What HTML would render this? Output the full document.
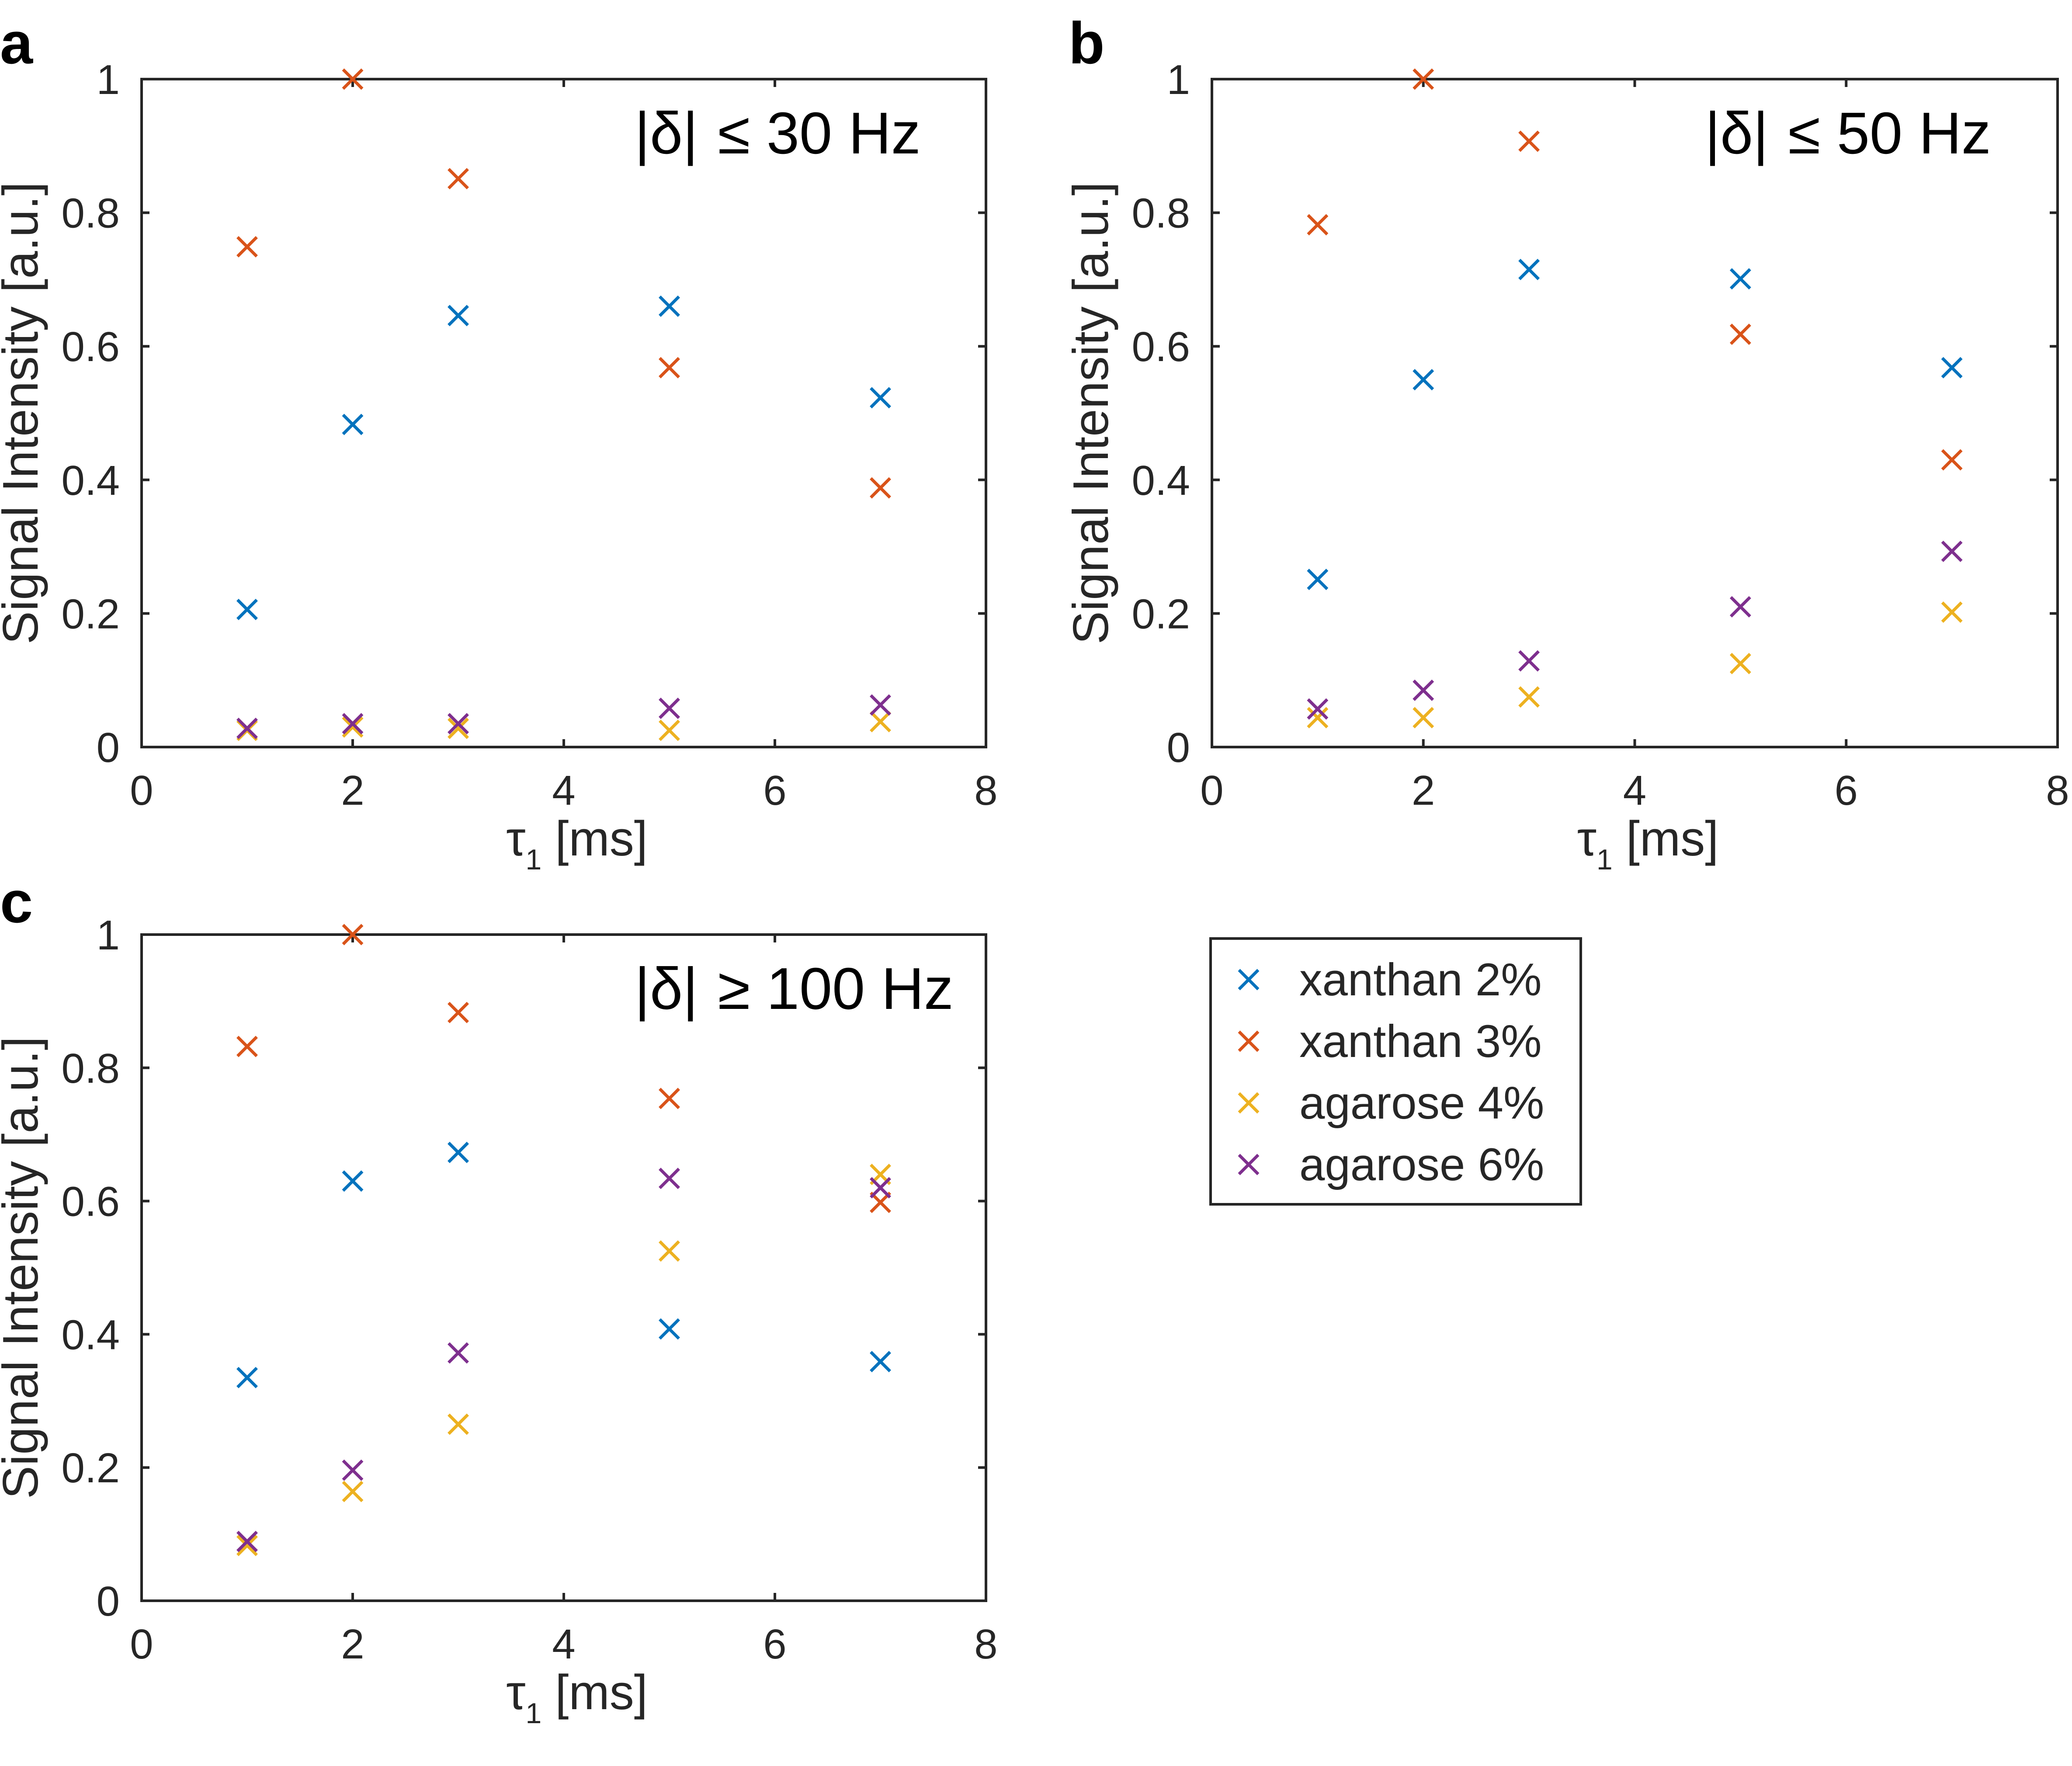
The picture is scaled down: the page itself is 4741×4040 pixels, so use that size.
<!DOCTYPE html>
<html><head><meta charset="utf-8"><style>
html,body{margin:0;padding:0;background:#fff;}
svg{display:block;font-family:"Liberation Sans",sans-serif;}
</style></head><body>
<svg id="fig" width="4741" height="4040" viewBox="0 0 4741 4040" xmlns="http://www.w3.org/2000/svg"></svg>
<script>
const xTicks=[0,2,4,6,8];
const yTicks=[0,0.2,0.4,0.6,0.8,1];
const yTickLabels=["0","0.2","0.4","0.6","0.8","1"];
const tau=[1,2,3,5,7];
const seriesNames=["xanthan 2%","xanthan 3%","agarose 4%","agarose 6%"];
const colors=["#0072BD","#D95319","#EDB120","#7E2F8E"];
const a_x2=[0.206,0.483,0.646,0.660,0.523];
const a_x3=[0.749,1.0,0.851,0.568,0.388];
const a_ag4=[0.025,0.030,0.028,0.025,0.038];
const a_ag6=[0.028,0.035,0.035,0.058,0.063];
const b_x2=[0.251,0.550,0.715,0.701,0.568];
const b_x3=[0.782,1.0,0.907,0.618,0.430];
const b_ag4=[0.044,0.044,0.075,0.125,0.202];
const b_ag6=[0.057,0.085,0.129,0.210,0.293];
const c_x2=[0.335,0.630,0.673,0.408,0.359];
const c_x3=[0.832,1.0,0.883,0.754,0.598];
const c_ag4=[0.083,0.164,0.265,0.525,0.640];
const c_ag6=[0.089,0.196,0.372,0.634,0.620];

const NS="http://www.w3.org/2000/svg";
const svg=document.getElementById('fig');
function el(t,at,p){const e=document.createElementNS(NS,t);for(const k in at)e.setAttribute(k,at[k]);(p||svg).appendChild(e);return e;}
function cross(g,cx,cy,c){
  const r=22;
  return el('path',{d:`M${cx-r},${cy-r}L${cx+r},${cy+r}M${cx-r},${cy+r}L${cx+r},${cy-r}`,stroke:c,'stroke-width':7,fill:'none'},g);
}
function panel(id,L,R,T,B,data,letter,letterX,letterY,rel,thr){
  const g=el('g',{});
  
  
  const xs=v=>L+(R-L)*v/8, ys=v=>B-(B-T)*v;
  const box=el('rect',{x:L,y:T,width:R-L,height:B-T,fill:'none',stroke:'#262626','stroke-width':6},g);
  
  
  xTicks.forEach(t=>{
    const x=xs(t);
    if(t>0&&t<8){el('line',{x1:x,y1:B,x2:x,y2:B-18,stroke:'#262626','stroke-width':6},g);el('line',{x1:x,y1:T,x2:x,y2:T+18,stroke:'#262626','stroke-width':6},g);}
    const tx=el('text',{x:x,y:B+132,'text-anchor':'middle','font-size':96,fill:'#262626'},g);
    tx.textContent=t;
    
    
  });
  yTicks.forEach((t,i)=>{
    const y=ys(t);
    if(t>0&&t<1){el('line',{x1:L,y1:y,x2:L+18,y2:y,stroke:'#262626','stroke-width':6},g);el('line',{x1:R,y1:y,x2:R-18,y2:y,stroke:'#262626','stroke-width':6},g);}
    const tx=el('text',{x:L-50,y:y+34,'text-anchor':'end','font-size':96,fill:'#262626'},g);
    tx.textContent=yTickLabels[i];
    
    
  });
  const xt=el('text',{x:(L+R)/2+30,y:B+248,'text-anchor':'middle','font-size':112,fill:'#262626'},g);
  xt.innerHTML='τ<tspan font-size="66" dy="32">1</tspan><tspan dy="-32"> [ms]</tspan>';
  
  
  const cy=(T+B)/2-0;
  const yt=el('text',{x:0,y:0,transform:`translate(${L-238},${cy}) rotate(-90)`,'text-anchor':'middle','font-size':114,fill:'#262626'},g);
  yt.textContent='Signal Intensity [a.u.]';
  
  
  const lt=el('text',{x:letterX,y:letterY,'font-size':135,'font-weight':'bold',fill:'#000'},g);
  lt.textContent=letter;
  
  
  const an=el('text',{x:L+1128,y:T+170,'font-size':135,fill:'#000'},g);
  an.innerHTML='|δ|<tspan dx="45">'+rel+' '+thr+'</tspan>';
  
  
  data.forEach((arr,si)=>{
    arr.forEach((v,i)=>{
      const m=cross(g,xs(tau[i]),ys(v),colors[si]);
      
      
    });
  });
}
panel('a',324,2256,181,1709,[a_x2,a_x3,a_ag4,a_ag6],'a',0,145,'≤','30 Hz');
panel('b',2773,4708,181,1709,[b_x2,b_x3,b_ag4,b_ag6],'b',2445,145,'≤','50 Hz');
panel('c',324,2256,2138,3662,[c_x2,c_x3,c_ag4,c_ag6],'c',0,2110,'≥','100 Hz');

const lg=el('g',{});


const lb=el('rect',{x:2770,y:2147,width:847,height:608,fill:'#fff',stroke:'#262626','stroke-width':6},lg);


seriesNames.forEach((n,i)=>{
  const y=2241+i*141;
  const m=cross(lg,2857,y,colors[i]);
  
  
  const t=el('text',{x:2973,y:y+36,'font-size':105,fill:'#262626'},lg);
  t.textContent=n;
  
  
});
</script>
</body></html>
